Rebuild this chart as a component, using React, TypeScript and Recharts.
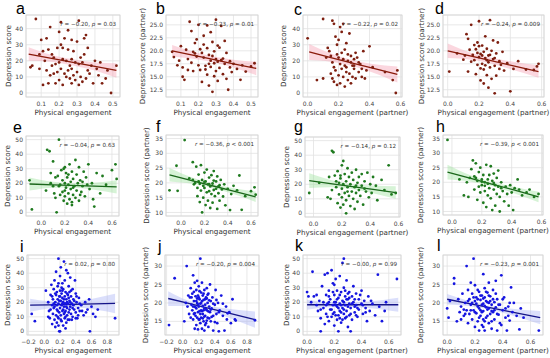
import { ComposedChart, Scatter, Line, Area, XAxis, YAxis, CartesianGrid } from "recharts"

type Pt = [number, number]
// [x, lower CI, fit, upper CI]
type BandRow = [number, number, number, number]

// ---- tick labels ----
const engTicksA = [0.1, 0.2, 0.3, 0.4, 0.5]
const engTicksB = [0, 0.2, 0.4, 0.6]
const engTicksC = [-0.2, 0, 0.2, 0.4, 0.6, 0.8]
const scoreTicks40 = [0, 10, 20, 30, 40]
const scoreTicks50 = [0, 10, 20, 30, 40, 50]
const partnerTicksA = [12.5, 15, 17.5, 20, 22.5, 25]
const partnerTicksB = [10, 15, 20, 25, 30, 35]
const partnerTicksC = [15, 20, 25, 30]

const panelLetters = ["a", "b", "c", "d", "e", "f", "g", "h", "i", "j", "k", "l"]
const rValues = ["−0.20", "−0.23", "−0.22", "−0.24", "−0.04", "−0.36", "−0.14", "−0.39", "0.02", "−0.20", "−0.00", "−0.23"]
const pValues = ["= 0.03", "= 0.01", "= 0.02", "= 0.009", "= 0.63", "< 0.001", "= 0.12", "< 0.001", "= 0.80", "= 0.004", "= 0.99", "= 0.001"]

// ---- points ----
const aPoints: Pt[] = [[0.07,46],[0.15,41],[0.21,44],[0.31,45],[0.20,38],[0.25,39],[0.35,36],[0.34,34],[0.13,34],[0.10,33],[0.23,34],[0.27,33],[0.30,32],[0.21,30],[0.19,28],[0.22,28],[0.14,27],[0.11,26],[0.16,24],[0.25,27],[0.28,26],[0.36,28],[0.32,22],[0.34,24],[0.05,17],[0.04,16],[0.09,24],[0.12,20],[0.17,22],[0.18,18],[0.20,19],[0.22,21],[0.24,20],[0.26,17],[0.27,21],[0.29,19],[0.31,18],[0.33,19],[0.38,17],[0.40,20],[0.43,19],[0.47,14],[0.52,17],[0.13,14],[0.15,11],[0.17,12],[0.19,13],[0.21,15],[0.23,12],[0.24,10],[0.25,14],[0.26,9],[0.28,11],[0.29,8],[0.30,13],[0.32,10],[0.33,7],[0.35,9],[0.37,12],[0.39,6],[0.42,11],[0.44,6],[0.46,9],[0.49,0],[0.11,5],[0.14,6],[0.18,6],[0.20,8],[0.22,5],[0.27,6],[0.31,5],[0.09,15],[0.16,17],[0.27,15],[0.36,14],[0.41,15]]
const bPoints: Pt[] = [[0.05,19.8],[0.06,18.8],[0.08,17.2],[0.09,18.1],[0.10,20.9],[0.11,16.8],[0.11,15],[0.12,14.4],[0.13,20.2],[0.14,18.4],[0.15,25.6],[0.16,23.8],[0.16,17.7],[0.17,16.1],[0.18,21.5],[0.18,19.5],[0.19,22.2],[0.19,18.9],[0.20,25],[0.20,17.2],[0.21,20.3],[0.21,16.3],[0.22,19.6],[0.22,14],[0.23,22.9],[0.23,18.7],[0.24,17.1],[0.24,16.4],[0.25,24.9],[0.25,20.5],[0.25,15.4],[0.26,19.2],[0.26,13.3],[0.27,23.6],[0.27,18.1],[0.27,16.9],[0.28,21.7],[0.28,12.1],[0.29,19.9],[0.29,17.6],[0.29,15.1],[0.30,26],[0.30,18.4],[0.31,21],[0.31,17.9],[0.31,14.2],[0.32,20.6],[0.32,16.7],[0.33,24.8],[0.33,18.2],[0.34,15.5],[0.35,21.9],[0.35,17.5],[0.36,19.6],[0.36,14.6],[0.37,12.5],[0.38,18],[0.39,15.9],[0.40,17.5],[0.42,16.5],[0.44,14.4],[0.45,17.2],[0.47,16],[0.50,17],[0.52,17.6],[0.14,16.3],[0.17,19.8],[0.23,21.2],[0.26,17.5],[0.28,19],[0.30,16.1],[0.34,18.5],[0.38,16.8]]
const cPoints: Pt[] = [[0.0,34],[0.10,46],[0.16,45],[0.17,43],[0.06,8],[0.10,9],[0.13,28],[0.14,26],[0.15,23],[0.16,19],[0.17,16],[0.18,35],[0.19,30],[0.20,33],[0.21,41],[0.22,38],[0.22,25],[0.23,43],[0.24,27],[0.25,31],[0.26,20],[0.27,37],[0.28,23],[0.29,17],[0.30,21],[0.31,25],[0.33,19],[0.35,15],[0.36,26],[0.38,14],[0.40,29],[0.42,16],[0.50,13],[0.55,8],[0.57,0],[0.58,14],[0.15,12],[0.16,9],[0.17,7],[0.18,14],[0.19,5],[0.20,11],[0.21,6],[0.22,15],[0.23,10],[0.24,4],[0.25,13],[0.26,8],[0.27,12],[0.28,6],[0.29,10],[0.30,15],[0.31,9],[0.33,13],[0.35,10],[0.37,9],[0.20,22],[0.21,18],[0.23,21],[0.24,17],[0.26,24],[0.28,19],[0.30,17],[0.32,22],[0.34,18],[0.19,24],[0.12,22],[0.25,16]]
const dPoints: Pt[] = [[0.01,16],[0.06,19.5],[0.10,18.3],[0.12,23.2],[0.13,22.3],[0.14,20.2],[0.13,16],[0.15,25],[0.16,19.2],[0.17,18.2],[0.17,21.1],[0.18,20.3],[0.18,15.5],[0.19,19.6],[0.19,17.3],[0.20,25.7],[0.20,20.9],[0.20,18.8],[0.21,14.3],[0.21,19.4],[0.22,17.5],[0.22,21],[0.23,16.4],[0.23,19.8],[0.23,13.7],[0.24,18.6],[0.24,22.8],[0.25,20.4],[0.25,15.3],[0.26,17.8],[0.26,19.1],[0.26,12.9],[0.27,25.9],[0.27,16.8],[0.28,20],[0.28,14.6],[0.29,18.4],[0.29,22],[0.30,11.8],[0.30,17.1],[0.31,19.5],[0.31,15.2],[0.32,21.6],[0.33,18],[0.33,16.5],[0.34,17.3],[0.35,19.8],[0.36,16.2],[0.38,17.6],[0.40,12.2],[0.42,16.5],[0.45,18],[0.50,16.4],[0.55,16.3],[0.57,17],[0.58,17.5],[0.15,17.9],[0.19,21.6],[0.21,16.6],[0.24,17.2],[0.27,19.2],[0.30,18.6],[0.11,19.1],[0.22,19.1],[0.25,18.2]]
const ePoints: Pt[] = [[-0.1,22],[-0.08,2],[0.05,43],[0.07,42],[0.08,27],[0.1,35],[0.1,18],[0.12,24],[0.13,0],[0.14,25],[0.15,50],[0.15,18],[0.16,12],[0.17,29],[0.18,22],[0.18,14],[0.19,30],[0.19,8],[0.2,31],[0.2,20],[0.2,11],[0.21,27],[0.21,17],[0.22,6],[0.22,24],[0.23,19],[0.23,13],[0.24,33],[0.24,9],[0.25,21],[0.25,16],[0.26,28],[0.26,5],[0.27,23],[0.27,12],[0.28,18],[0.29,36],[0.29,10],[0.3,26],[0.3,15],[0.31,20],[0.32,31],[0.32,8],[0.33,22],[0.34,14],[0.35,18],[0.36,28],[0.37,11],[0.38,24],[0.4,33],[0.41,16],[0.43,20],[0.45,4],[0.47,27],[0.5,13],[0.55,19],[0.6,29],[0.63,33],[0.64,23],[0.04,15],[0.08,20],[0.12,10],[0.16,19],[0.2,15],[0.23,26],[0.27,17],[0.33,12],[0.39,19],[0.44,9],[0.52,25],[0.11,13],[0.26,7],[0.35,21]]
const fPoints: Pt[] = [[-0.1,17.5],[-0.04,25.8],[-0.03,17.3],[0.03,34.5],[0.07,21.5],[0.1,27],[0.1,21],[0.11,19.5],[0.12,20],[0.13,25.5],[0.14,18.3],[0.14,15.5],[0.15,22.8],[0.16,19.7],[0.16,13.5],[0.17,26],[0.17,17.4],[0.18,10],[0.18,21],[0.19,19],[0.19,15],[0.2,23.5],[0.2,18.3],[0.21,12.5],[0.21,20.5],[0.22,16.8],[0.22,24.5],[0.23,19.5],[0.23,14],[0.24,21.8],[0.24,17.2],[0.25,18.8],[0.25,11.5],[0.26,22.6],[0.26,16.2],[0.27,19.8],[0.27,13.3],[0.28,17.6],[0.28,24],[0.29,15.5],[0.3,20.5],[0.3,18],[0.31,11.2],[0.31,22.2],[0.32,16.5],[0.33,19.2],[0.33,14],[0.34,21],[0.35,17.8],[0.36,15.4],[0.37,19.5],[0.38,12.4],[0.4,18],[0.42,10.8],[0.43,16.2],[0.45,19],[0.48,17.5],[0.5,22.5],[0.52,10.9],[0.55,15.5],[0.6,17.2],[0.63,18.5],[0.64,16],[0.2,20.3],[0.24,19.6],[0.28,20.8],[0.15,20.5],[0.32,18.8]]
const gPoints: Pt[] = [[-0.03,14],[0.04,21],[0.1,11],[0.11,25],[0.12,10],[0.13,16],[0.13,43],[0.14,42],[0.15,26],[0.16,18],[0.17,29],[0.17,7],[0.18,21],[0.18,13],[0.19,24],[0.19,4],[0.2,33],[0.2,17],[0.2,11],[0.21,36],[0.21,20],[0.21,6],[0.22,27],[0.22,14],[0.23,0],[0.23,22],[0.23,9],[0.24,31],[0.24,18],[0.25,12],[0.25,25],[0.26,5],[0.26,20],[0.27,15],[0.27,28],[0.28,10],[0.28,23],[0.29,18],[0.29,3],[0.3,30],[0.3,14],[0.31,21],[0.31,8],[0.32,25],[0.32,16],[0.33,12],[0.34,27],[0.34,19],[0.35,6],[0.36,22],[0.37,15],[0.38,28],[0.39,11],[0.4,20],[0.41,14],[0.42,25],[0.44,19],[0.45,9],[0.48,23],[0.5,16],[0.53,33],[0.55,13],[0.58,14],[0.16,22],[0.24,15],[0.3,19],[0.36,17],[0.19,26]]
const hPoints: Pt[] = [[-0.03,34.5],[0.05,21],[0.08,15.5],[0.1,20],[0.11,15],[0.12,21.5],[0.13,24.5],[0.14,27.5],[0.15,22],[0.15,17.5],[0.16,26.5],[0.17,20.5],[0.17,14],[0.18,23.5],[0.18,18.5],[0.19,25],[0.19,16.5],[0.2,21],[0.2,19],[0.21,22.5],[0.21,13],[0.22,20],[0.22,17],[0.23,26],[0.23,11.5],[0.24,19.5],[0.24,15.5],[0.25,22.5],[0.25,18],[0.26,25.5],[0.26,14.5],[0.27,20.5],[0.27,10.5],[0.28,23],[0.28,17.5],[0.29,19],[0.29,12],[0.3,21.5],[0.3,16],[0.31,24],[0.31,18.5],[0.32,10],[0.32,15],[0.33,20],[0.34,17],[0.35,13.5],[0.36,18.5],[0.37,16],[0.38,12],[0.39,19],[0.4,16.5],[0.41,10.5],[0.42,18],[0.44,21],[0.45,17.5],[0.47,15.5],[0.5,16.5],[0.52,17.5],[0.55,15],[0.58,16],[0.2,20.2],[0.24,21],[0.28,19.8],[0.33,18],[0.16,21.5],[0.22,18.8]]
const iPoints: Pt[] = [[-0.16,12],[-0.12,7],[0.02,28],[0.05,20],[0.06,14],[0.07,9],[0.08,25],[0.09,32],[0.1,18],[0.1,5],[0.11,22],[0.11,12],[0.12,29],[0.12,16],[0.13,8],[0.13,35],[0.14,20],[0.14,3],[0.15,41],[0.15,25],[0.15,11],[0.16,18],[0.16,27],[0.16,6],[0.17,14],[0.17,31],[0.17,22],[0.18,50],[0.18,9],[0.18,19],[0.19,24],[0.19,0],[0.19,13],[0.2,38],[0.2,28],[0.2,16],[0.2,0],[0.21,21],[0.21,11],[0.21,44],[0.22,26],[0.22,7],[0.22,18],[0.23,33],[0.23,14],[0.23,23],[0.24,4],[0.24,20],[0.24,29],[0.25,48],[0.25,12],[0.25,17],[0.26,24],[0.26,9],[0.26,35],[0.27,19],[0.27,14],[0.27,27],[0.28,42],[0.28,6],[0.28,22],[0.29,16],[0.29,11],[0.3,40],[0.3,25],[0.3,19],[0.31,13],[0.31,31],[0.32,21],[0.32,8],[0.33,37],[0.33,17],[0.34,24],[0.34,12],[0.35,19],[0.36,29],[0.36,10],[0.37,22],[0.38,15],[0.39,35],[0.4,13],[0.4,26],[0.41,20],[0.42,9],[0.43,16],[0.44,23],[0.45,14],[0.47,18],[0.5,11],[0.52,20],[0.55,15],[0.58,0],[0.6,17],[0.62,12],[0.65,10],[0.9,9],[0.08,15],[0.18,4],[0.23,28],[0.27,2],[0.32,15],[0.12,19],[0.29,26],[0.35,8],[0.45,19],[0.14,26],[0.16,15],[0.18,33],[0.19,21],[0.21,8],[0.22,30],[0.24,15],[0.25,22],[0.26,19],[0.27,10],[0.28,17],[0.3,8],[0.31,23],[0.33,20],[0.34,28],[0.36,16],[0.38,21],[0.41,24],[0.43,11],[0.48,14],[0.1,24],[0.13,17],[0.17,10],[0.2,24],[0.23,19],[0.26,13],[0.29,20],[0.32,27],[0.37,18],[0.4,9],[0.05,10],[0.53,13],[0.57,22],[0.68,15]]
const jPoints: Pt[] = [[-0.17,14],[-0.1,26.7],[0.02,15],[0.04,20],[0.05,30],[0.06,19],[0.07,22],[0.08,17],[0.09,21.5],[0.1,16],[0.1,24],[0.11,19.5],[0.12,18],[0.12,22.5],[0.13,27.5],[0.13,15.5],[0.14,20.5],[0.14,17],[0.15,25.5],[0.15,19],[0.15,13],[0.16,21.8],[0.16,16.5],[0.17,23.5],[0.17,18.5],[0.17,14],[0.18,20],[0.18,26],[0.19,17.5],[0.19,22],[0.19,12.8],[0.2,19],[0.2,15.5],[0.2,24.5],[0.21,21],[0.21,17.8],[0.22,32],[0.22,19.8],[0.22,14.5],[0.23,22.8],[0.23,18],[0.23,16],[0.24,20.5],[0.24,13],[0.24,25.5],[0.25,19.2],[0.25,17],[0.25,22],[0.26,15],[0.26,20.8],[0.27,18.5],[0.27,23.5],[0.27,12.5],[0.28,19.5],[0.28,16.5],[0.29,21.5],[0.29,14.5],[0.3,24],[0.3,18],[0.31,20],[0.31,16],[0.32,22.5],[0.32,13.5],[0.33,19],[0.34,17.5],[0.34,25],[0.35,20.5],[0.35,15],[0.36,18.5],[0.37,21.5],[0.38,16.5],[0.38,12.5],[0.4,19.5],[0.41,23.5],[0.42,17],[0.43,14.5],[0.44,20],[0.45,12.3],[0.46,18],[0.48,22],[0.5,16.5],[0.52,12.5],[0.54,19],[0.55,15.5],[0.58,17.5],[0.6,14.5],[0.62,21],[0.65,15.5],[0.66,15.2],[0.9,15.3],[0.18,21.2],[0.21,15.5],[0.26,18],[0.3,21.2],[0.14,23],[0.33,15.8],[0.13,19],[0.16,18.8],[0.18,16],[0.2,21.5],[0.22,17],[0.23,20],[0.25,15.8],[0.26,22.5],[0.27,16.3],[0.28,21],[0.29,18.3],[0.3,15.2],[0.31,22.2],[0.32,17.7],[0.33,20.7],[0.36,16.2],[0.38,19.8],[0.4,14.8],[0.42,20.8],[0.45,17.5],[0.19,19.6],[0.21,23.2],[0.24,17.8],[0.17,20.5],[0.15,17.2],[0.11,21.5],[0.28,14],[0.35,18.2],[0.5,19.8],[0.56,17.2]]
const kPoints: Pt[] = [[0.0,27],[0.01,24],[0.03,20],[0.04,41],[0.05,24],[0.07,18],[0.08,14],[0.09,21],[0.1,0],[0.1,9],[0.11,31],[0.12,16],[0.13,39],[0.13,5],[0.14,25],[0.14,12],[0.15,40],[0.15,19],[0.16,7],[0.16,28],[0.17,15],[0.17,22],[0.18,42],[0.18,10],[0.19,18],[0.19,33],[0.2,25],[0.2,4],[0.2,13],[0.21,20],[0.21,36],[0.22,8],[0.22,17],[0.22,28],[0.23,23],[0.23,11],[0.23,0],[0.24,38],[0.24,19],[0.24,14],[0.25,27],[0.25,6],[0.26,21],[0.26,16],[0.26,47],[0.27,50],[0.27,12],[0.27,30],[0.28,24],[0.28,9],[0.28,18],[0.29,35],[0.29,14],[0.3,22],[0.3,3],[0.31,27],[0.31,11],[0.31,19],[0.32,0],[0.32,16],[0.33,24],[0.33,8],[0.34,31],[0.34,20],[0.35,13],[0.36,18],[0.36,26],[0.37,10],[0.38,22],[0.38,15],[0.4,19],[0.4,28],[0.41,12],[0.42,21],[0.43,16],[0.44,7],[0.45,24],[0.46,14],[0.48,19],[0.5,11],[0.52,39],[0.53,17],[0.55,7],[0.57,14],[0.66,36],[0.12,20],[0.19,12],[0.24,9],[0.29,22],[0.35,17],[0.21,18],[0.27,15],[0.16,20],[0.14,18],[0.16,24],[0.18,15],[0.19,27],[0.2,20],[0.21,11],[0.22,22],[0.23,16],[0.24,25],[0.25,13],[0.26,8],[0.27,20],[0.28,28],[0.29,10],[0.3,17],[0.31,23],[0.32,12],[0.33,19],[0.35,22],[0.37,16],[0.39,25],[0.41,18],[0.43,13],[0.47,21],[0.15,10],[0.2,32],[0.25,18],[0.3,26],[0.36,11],[0.1,15],[0.07,25],[0.58,20]]
const lPoints: Pt[] = [[0.0,18.5],[0.01,16],[0.02,20.5],[0.05,26.7],[0.05,25.2],[0.07,15],[0.08,21],[0.09,17.5],[0.1,19],[0.1,15.5],[0.11,22.5],[0.12,16.5],[0.13,20],[0.14,30],[0.14,18],[0.15,23.5],[0.15,14.5],[0.16,21],[0.16,17],[0.17,25.5],[0.17,19.5],[0.18,15.5],[0.18,22.5],[0.19,32],[0.19,18],[0.2,20.5],[0.2,13.5],[0.2,24.8],[0.21,17.2],[0.21,21.5],[0.22,19],[0.22,15],[0.23,23],[0.23,18.5],[0.23,12.5],[0.24,20.8],[0.24,16.5],[0.25,22],[0.25,19.5],[0.25,14],[0.26,27.8],[0.26,21.2],[0.26,17.8],[0.27,24],[0.27,19.2],[0.27,12.5],[0.28,20.5],[0.28,16],[0.29,22.8],[0.29,18.2],[0.3,25.5],[0.3,14.5],[0.3,20],[0.31,17],[0.31,21.8],[0.32,19.5],[0.32,13],[0.33,23.5],[0.33,17.5],[0.34,20.2],[0.34,15.5],[0.35,26],[0.35,18.8],[0.36,12.5],[0.36,21],[0.37,16.8],[0.38,19.5],[0.39,27.5],[0.39,14],[0.4,18],[0.41,21.5],[0.42,16],[0.43,12.5],[0.44,19],[0.45,15.2],[0.46,24.2],[0.47,17.5],[0.48,20],[0.5,16.5],[0.52,12.8],[0.53,18.5],[0.55,16],[0.66,12.5],[0.18,20],[0.24,18],[0.28,18.8],[0.22,21],[0.32,17.8],[0.12,18.2],[0.26,15.5],[0.3,22],[0.2,17.5],[0.21,19.8],[0.22,23.5],[0.23,16],[0.24,22],[0.25,17.5],[0.26,19.8],[0.27,21.5],[0.27,15],[0.28,23],[0.29,16.5],[0.3,18.5],[0.31,20.5],[0.32,15],[0.33,21],[0.34,18],[0.35,22.5],[0.37,19.5],[0.38,14.5],[0.4,21],[0.42,18.5],[0.44,16.5],[0.19,21.5],[0.17,18],[0.15,20.5],[0.13,17],[0.29,20.2],[0.26,13.5],[0.36,17],[0.45,20]]

// ---- regression fit and confidence band ----
const aBand: BandRow[] = [[0.03,20,24.2,28.5],[0.15,19.5,21.7,24],[0.27,17.3,19.2,21.1],[0.40,14,16.5,19],[0.52,9.5,14,18.5]]
const bBand: BandRow[] = [[0.05,18.9,20,21.1],[0.16,18.5,19.2,19.9],[0.27,17.9,18.44,19],[0.40,16.8,17.5,18.3],[0.53,15.3,16.6,17.9]]
const cBand: BandRow[] = [[0.01,20.5,25.5,30.5],[0.15,19.5,22.06,24.6],[0.27,17.2,19.1,21],[0.42,12.8,15.4,18],[0.58,6.5,11.5,16.5]]
const dBand: BandRow[] = [[0.0,18.6,20,21.4],[0.15,18.3,18.97,19.6],[0.27,17.6,18.14,18.7],[0.42,16.3,17.1,17.9],[0.58,14.8,16,17.2]]
const eBand: BandRow[] = [[-0.1,15,19.5,24],[0.1,17,18.96,21],[0.25,17.1,18.55,20],[0.45,15.6,18,20.4],[0.64,13,17.5,22]]
const fBand: BandRow[] = [[-0.1,20.5,22.7,25],[0.1,19.7,20.7,21.7],[0.25,18.5,19.2,19.9],[0.45,16.2,17.2,18.2],[0.64,13.5,15.3,17.1]]
const gBand: BandRow[] = [[-0.03,17.5,22.5,27.5],[0.12,18,20.5,23],[0.26,17,18.6,20.2],[0.42,13.8,16.45,19.1],[0.58,10,14.3,18.6]]
const hBand: BandRow[] = [[-0.03,21,23.5,26],[0.12,20.3,21.4,22.5],[0.26,18.8,19.5,20.2],[0.42,16.2,17.3,18.4],[0.58,13.2,15,16.8]]
const iBand: BandRow[] = [[-0.18,13.5,18,22.5],[0.05,15.8,18.26,20.7],[0.25,16.8,18.48,20.2],[0.5,16,18.76,21.5],[0.9,12.5,19.2,25.9]]
const jBand: BandRow[] = [[-0.18,19.2,21.2,23.2],[0.05,19.2,19.99,20.8],[0.25,18.4,18.93,19.5],[0.5,16.6,17.61,18.6],[0.9,13.3,15.5,17.7]]
const kBand: BandRow[] = [[0.0,14.8,18.3,21.8],[0.15,16.5,18.3,20.1],[0.28,16.8,18.3,19.8],[0.45,16.1,18.3,20.5],[0.67,13.5,18.3,23.1]]
const lBand: BandRow[] = [[0.0,19.6,21,22.4],[0.15,19.2,19.88,20.6],[0.28,18.4,18.91,19.4],[0.45,16.8,17.64,18.5],[0.67,14.2,16,17.8]]

const palette = {
  red: { point: "#7e1f10", line: "#8a1a0a", band: "#f49cb0" },
  green: { point: "#1f7a1f", line: "#1a661a", band: "#98e098" },
  blue: { point: "#1515e0", line: "#141488", band: "#a6aef5" },
}

const ENG = "Physical engagement"
const ENG_P = "Physical engagement (partner)"
const DEP = "Depression score"
const DEP_P = "Depression score (partner)"

// layout only: plot box [x0,y0,x1,y1], letter pos, y-title baseline x
const panels = [
  { points: aPoints, band: aBand, box: [26, 15, 120, 97], xDomain: [0.015, 0.54], xTicks: engTicksA, yDomain: [-2.5, 48.5], yTicks: scoreTicks40, col: palette.red, xTitle: ENG, yTitle: DEP, letter: [16, 14], yTitleX: 11, yDec: false },
  { points: bPoints, band: bBand, box: [166, 15, 258, 97], xDomain: [0.015, 0.54], xTicks: engTicksA, yDomain: [11.1, 26.9], yTicks: partnerTicksA, col: palette.red, xTitle: ENG, yTitle: DEP_P, letter: [156, 14], yTitleX: 145, yDec: true },
  { points: cPoints, band: cBand, box: [303, 15, 402, 97], xDomain: [-0.03, 0.61], xTicks: engTicksB, yDomain: [-2.5, 48.5], yTicks: scoreTicks40, col: palette.red, xTitle: ENG_P, yTitle: DEP, letter: [294, 15], yTitleX: 286, yDec: false },
  { points: dPoints, band: dBand, box: [443, 15, 544, 97], xDomain: [-0.03, 0.615], xTicks: engTicksB, yDomain: [11.1, 26.9], yTicks: partnerTicksA, col: palette.red, xTitle: ENG_P, yTitle: DEP_P, letter: [435, 14], yTitleX: 424, yDec: true },
  { points: ePoints, band: eBand, box: [26, 136, 119, 216], xDomain: [-0.13, 0.66], xTicks: engTicksB, yDomain: [-2.5, 52.5], yTicks: scoreTicks50, col: palette.green, xTitle: ENG, yTitle: DEP, letter: [13, 133], yTitleX: 10, yDec: false },
  { points: fPoints, band: fBand, box: [166, 135, 258, 216], xDomain: [-0.13, 0.66], xTicks: engTicksB, yDomain: [8.8, 36.2], yTicks: partnerTicksB, col: palette.green, xTitle: ENG, yTitle: DEP_P, letter: [156, 132], yTitleX: 149, yDec: false },
  { points: gPoints, band: gBand, box: [305, 137, 400, 217], xDomain: [-0.06, 0.61], xTicks: engTicksB, yDomain: [-2.5, 52.5], yTicks: scoreTicks50, col: palette.green, xTitle: ENG_P, yTitle: DEP, letter: [294, 132], yTitleX: 289, yDec: false },
  { points: hPoints, band: hBand, box: [443, 135, 543, 215], xDomain: [-0.06, 0.61], xTicks: engTicksB, yDomain: [8.8, 36.2], yTicks: partnerTicksB, col: palette.green, xTitle: ENG_P, yTitle: DEP_P, letter: [436, 132], yTitleX: 423, yDec: false },
  { points: iPoints, band: iBand, box: [27, 255, 119, 335], xDomain: [-0.22, 0.95], xTicks: engTicksC, yDomain: [-2.5, 52.5], yTicks: scoreTicks50, col: palette.blue, xTitle: ENG, yTitle: DEP, letter: [20, 252], yTitleX: 10, yDec: false },
  { points: jPoints, band: jBand, box: [165, 255, 259, 335], xDomain: [-0.22, 0.95], xTicks: engTicksC, yDomain: [11.3, 33], yTicks: partnerTicksC, col: palette.blue, xTitle: ENG, yTitle: DEP_P, letter: [158, 252], yTitleX: 148, yDec: false },
  { points: kPoints, band: kBand, box: [303, 255, 401, 335], xDomain: [-0.03, 0.69], xTicks: engTicksB, yDomain: [-2.5, 52.5], yTicks: scoreTicks50, col: palette.blue, xTitle: ENG_P, yTitle: DEP, letter: [295, 251], yTitleX: 289, yDec: false },
  { points: lPoints, band: lBand, box: [443, 255, 543, 335], xDomain: [-0.03, 0.69], xTicks: engTicksB, yDomain: [11.3, 33], yTicks: partnerTicksC, col: palette.blue, xTitle: ENG_P, yTitle: DEP_P, letter: [437, 251], yTitleX: 423, yDec: false },
]

const FONT = "DejaVu Sans"
const fmtX = (v: number) => v.toFixed(1).replace("-", "−")

const YW = 20
const MT = 4
const MR = 6
const XH = 12

function Panel({ p }: { p: (typeof panels)[number] }) {
  const [x0, y0, x1, y1] = p.box
  const width = x1 - x0 + YW + MR
  const height = y1 - y0 + MT + XH
  const pts = p.points.map(([x, y]) => ({ x, y }))
  const rows = p.band.map(([x, lo, fit, hi]) => ({ x, y: fit, band: [lo, hi] }))
  const tickStyle = { fontSize: 6, fill: "#444", fontFamily: FONT }

  return (
    <div style={{ position: "absolute", left: x0 - YW, top: y0 - MT }}>
      <ComposedChart width={width} height={height} data={rows} margin={{ top: MT, right: MR, bottom: 0, left: 0 }}>
        <CartesianGrid stroke="#e2e2e2" strokeWidth={0.8} />
        <XAxis
          type="number"
          dataKey="x"
          domain={p.xDomain}
          ticks={p.xTicks}
          allowDataOverflow
          interval={0}
          height={XH}
          axisLine={false}
          tickLine={false}
          tickSize={3}
          tickMargin={2}
          tick={tickStyle}
          tickFormatter={fmtX}
        />
        <YAxis
          type="number"
          dataKey="y"
          domain={p.yDomain}
          ticks={p.yTicks}
          allowDataOverflow
          interval={0}
          width={YW}
          axisLine={false}
          tickLine={false}
          tickSize={2}
          tickMargin={1}
          tick={tickStyle}
          tickFormatter={(v: number) => (p.yDec ? v.toFixed(1) : String(v))}
        />
        <Scatter
          data={pts}
          isAnimationActive={false}
          shape={(s: any) => <circle cx={s.cx} cy={s.cy} r={1.4} fill={p.col.point} />}
        />
        <Area type="monotone" dataKey="band" stroke="none" fill={p.col.band} fillOpacity={0.4} isAnimationActive={false} />
        <Line type="linear" dataKey="y" stroke={p.col.line} strokeWidth={1.3} dot={false} isAnimationActive={false} />
      </ComposedChart>
    </div>
  )
}

export default function App() {
  return (
    <div style={{ position: "absolute", left: 0, top: 0, width: 550, height: 358, background: "#fff", overflow: "hidden" }}>
      {panels.map((p, i) => (
        <Panel key={i} p={p} />
      ))}
      <svg width={550} height={358} style={{ position: "absolute", left: 0, top: 0, pointerEvents: "none" }}>
        {panels.map((p, i) => {
          const [x0, y0, x1, y1] = p.box
          const cy = (y0 + y1) / 2
          return (
            <g key={i} fontFamily={FONT}>
              <rect x={x0} y={y0} width={x1 - x0} height={y1 - y0} fill="none" stroke="#d4d4d4" strokeWidth={0.8} />
              <text x={p.letter[0]} y={p.letter[1]} fontSize={16} fontFamily="Liberation Sans" fill="#000">
                {panelLetters[i]}
              </text>
              <text x={(x0 + x1) / 2} y={y1 + 17.5} fontSize={7.2} fill="#333" textAnchor="middle">
                {p.xTitle}
              </text>
              <text transform={`translate(${p.yTitleX},${cy}) rotate(-90)`} fontSize={7.2} fill="#333" textAnchor="middle">
                {p.yTitle}
              </text>
              <text x={x1 - 4} y={y0 + 11} fontSize={5.6} fill="#333" textAnchor="end">
                <tspan fontStyle="italic">r</tspan>
                {` = ${rValues[i]}, `}
                <tspan fontStyle="italic">p</tspan>
                {` ${pValues[i]}`}
              </text>
            </g>
          )
        })}
      </svg>
    </div>
  )
}
